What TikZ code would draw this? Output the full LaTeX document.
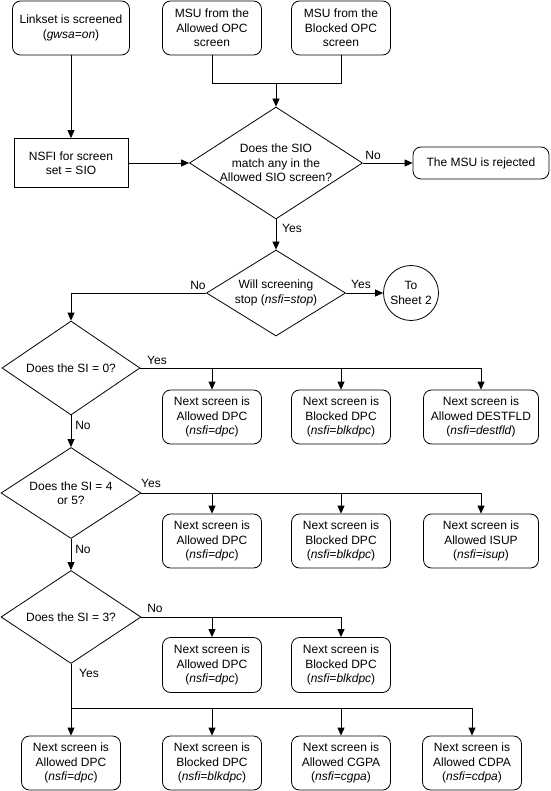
\documentclass[tikz,border=0pt]{standalone}
\usepackage{fontspec}
\setmainfont{Liberation Sans}
\usetikzlibrary{shapes.geometric,arrows.meta}

\tikzset{
	screen/.style={draw, rounded corners=8pt, align=center, minimum width=99pt, minimum height=54pt, inner sep=2pt},
	plain/.style={draw, align=center, minimum width=114pt, minimum height=49pt, inner sep=2pt},
	decision/.style={draw, diamond, aspect=1.55, inner sep=0pt, align=center},
	sheetconn/.style={draw, circle, minimum size=55pt, inner sep=0pt, align=center},
	lbl/.style={inner sep=1pt}
}

\begin{document}
\begin{tikzpicture}[x=1pt, y=-1pt, line width=0.8pt, >={Triangle[length=8pt,width=7pt]},
		font=\fontsize{12}{14.3}\selectfont]
			\useasboundingbox (0,0) rectangle (550,791);
			% top of the sheet
			\node[screen, minimum width=117pt] (linkset) at (71,28) {Linkset is screened\\(\textit{gwsa=on})};
			\node[screen] (allowopc) at (212,28) {MSU from the\\Allowed OPC\\screen};
			\node[screen] (blockopc) at (341,28) {MSU from the\\Blocked OPC\\screen};
			\node[plain] (nsfi) at (71,163) {NSFI for screen\\set = SIO};
			\node[decision, minimum width=173pt, minimum height=112pt] (sio) at (276,163)
				{Does the SIO\\match any in the\\Allowed SIO screen?};
			\node[screen, minimum width=136pt, minimum height=32pt] (reject) at (481,163) {The MSU is rejected};
			\node[decision, minimum width=139pt, minimum height=86pt] (stop) at (276,293)
				{Will screening\\stop (\textit{nsfi=stop})};
			\node[sheetconn] (sheet) at (411,293) {To\\Sheet 2};
			% the three SI questions
			\node[decision, minimum width=138pt, minimum height=94pt] (si0) at (71,368) {Does the SI = 0?};
			\node[decision, minimum width=140pt, minimum height=91pt] (si45) at (71,493) {Does the SI = 4\\or 5?};
			\node[decision, minimum width=140pt, minimum height=93pt] (si3) at (71,617) {Does the SI = 3?};
			% next screens
			\node[screen] (dpc1) at (212,417) {Next screen is\\Allowed DPC\\(\textit{nsfi=dpc})};
			\node[screen] (blk1) at (341,417) {Next screen is\\Blocked DPC\\(\textit{nsfi=blkdpc})};
			\node[screen, minimum width=115pt] (dest1) at (481,417) {Next screen is\\Allowed DESTFLD\\(\textit{nsfi=destfld})};
			\node[screen] (dpc2) at (212,541) {Next screen is\\Allowed DPC\\(\textit{nsfi=dpc})};
			\node[screen] (blk2) at (341,541) {Next screen is\\Blocked DPC\\(\textit{nsfi=blkdpc})};
			\node[screen, minimum width=115pt] (isup2) at (481,541) {Next screen is\\Allowed ISUP\\(\textit{nsfi=isup})};
			\node[screen, minimum height=55pt] (dpc3) at (212,665) {Next screen is\\Allowed DPC\\(\textit{nsfi=dpc})};
			\node[screen, minimum height=55pt] (blk3) at (341,665) {Next screen is\\Blocked DPC\\(\textit{nsfi=blkdpc})};
			\node[screen] (dpc4) at (71,763) {Next screen is\\Allowed DPC\\(\textit{nsfi=dpc})};
			\node[screen] (blk4) at (212,763) {Next screen is\\Blocked DPC\\(\textit{nsfi=blkdpc})};
			\node[screen] (cgpa4) at (341,763) {Next screen is\\Allowed CGPA\\(\textit{nsfi=cgpa})};
			\node[screen] (cdpa4) at (472,763) {Next screen is\\Allowed CDPA\\(\textit{nsfi=cdpa})};
			% yes / no
			\node[lbl] (no1) at (373,155) {No};
			\node[lbl] (yes1) at (292,228) {Yes};
			\node[lbl] (no2) at (198,285) {No};
			\node[lbl] (yes2) at (361,284) {Yes};
			\node[lbl] (yes3) at (157,360) {Yes};
			\node[lbl] (no3) at (83,425) {No};
			\node[lbl] (yes4) at (151,483) {Yes};
			\node[lbl] (no4) at (83,549) {No};
			\node[lbl] (no5) at (155,608) {No};
			\node[lbl] (yes5) at (89,673) {Yes};
			\coordinate (join) at (276,83);
			\coordinate (bus) at (71,708);
			% connectors
			\draw[->] (linkset) -- (nsfi);
			\draw (allowopc) |- (join);
			\draw (blockopc) |- (join);
			\draw[->] (join) -- (sio);
			\draw[->] (nsfi) -- (sio);
			\draw[->] (sio) -- (reject);
			\draw[->] (sio) -- (stop);
			\draw[->] (stop) -- (sheet);
			\draw[->] (stop.west) -| (si0.north);
			\draw[->] (si0.east) -| (dest1.north);
			\foreach \n in {dpc1,blk1}
				\draw[->] (si0.east -| \n.north) -- (\n.north);
			\draw[->] (si0) -- (si45);
			\draw[->] (si45.east) -| (isup2.north);
			\foreach \n in {dpc2,blk2}
				\draw[->] (si45.east -| \n.north) -- (\n.north);
			\draw[->] (si45) -- (si3);
			\draw[->] (si3.east) -| (blk3.north);
			\draw[->] (si3.east -| dpc3.north) -- (dpc3.north);
			\draw[->] (si3) -- (dpc4);
			\draw[->] (bus) -| (cdpa4.north);
			\foreach \n in {blk4,cgpa4}
				\draw[->] (bus -| \n.north) -- (\n.north);
		\end{tikzpicture}
\end{document}
